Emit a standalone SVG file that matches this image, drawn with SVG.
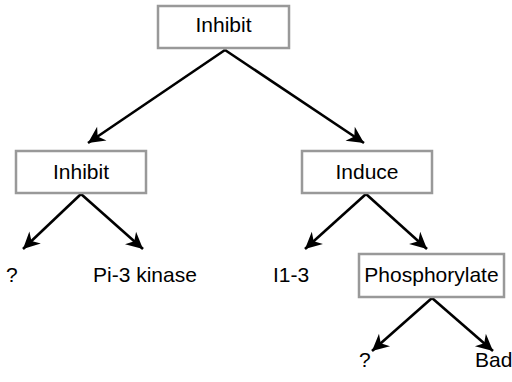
<svg xmlns="http://www.w3.org/2000/svg" width="512" height="382" viewBox="0 0 512 382">
<defs>
<style>
.box{fill:#fff;stroke:#999;stroke-width:2.5}
.t{font-family:"Liberation Sans",Arial,sans-serif;font-size:21px;fill:#000}
.c{text-anchor:middle}
.e{stroke:#000;stroke-width:2.6;fill:none;marker-end:url(#ah)}
</style>
<marker id="ah" markerUnits="userSpaceOnUse" markerWidth="20" markerHeight="20" viewBox="-16 -8 18 16" refX="0" refY="0" orient="auto">
<path d="M0,0 L-15,-7.5 L-10.5,0 L-15,7.5 Z" fill="#000"/>
</marker>
</defs>
<g id="connectors">
<line class="e" x1="225" y1="50" x2="88" y2="143"/>
<line class="e" x1="225" y1="50" x2="364" y2="143"/>
<line class="e" x1="81" y1="194" x2="23" y2="249"/>
<line class="e" x1="81" y1="194" x2="143" y2="249"/>
<line class="e" x1="366" y1="194" x2="305" y2="249"/>
<line class="e" x1="366" y1="194" x2="427" y2="249"/>
<line class="e" x1="432" y1="298" x2="372" y2="351"/>
<line class="e" x1="432" y1="298" x2="493" y2="351"/>
</g>
<g id="n-top"><rect class="box" x="158" y="6" width="131" height="42"/><text class="t c" x="223.5" y="32">Inhibit</text></g>
<g id="n-inhibit"><rect class="box" x="16" y="151" width="130" height="42"/><text class="t c" x="81" y="179">Inhibit</text></g>
<g id="n-induce"><rect class="box" x="302" y="151" width="130" height="42"/><text class="t c" x="367" y="179">Induce</text></g>
<g id="n-phos"><rect class="box" x="359" y="254" width="145" height="43"/><text class="t c" x="431.5" y="282">Phosphorylate</text></g>
<g id="n-q1"><text class="t" x="6" y="282">?</text></g>
<g id="n-pi3"><text class="t" x="93" y="282">Pi-3 kinase</text></g>
<g id="n-i13"><text class="t" x="273" y="282">I1-3</text></g>
<g id="n-q2"><text class="t" x="359" y="367">?</text></g>
<g id="n-bad"><text class="t" x="475" y="367">Bad</text></g>
</svg>
